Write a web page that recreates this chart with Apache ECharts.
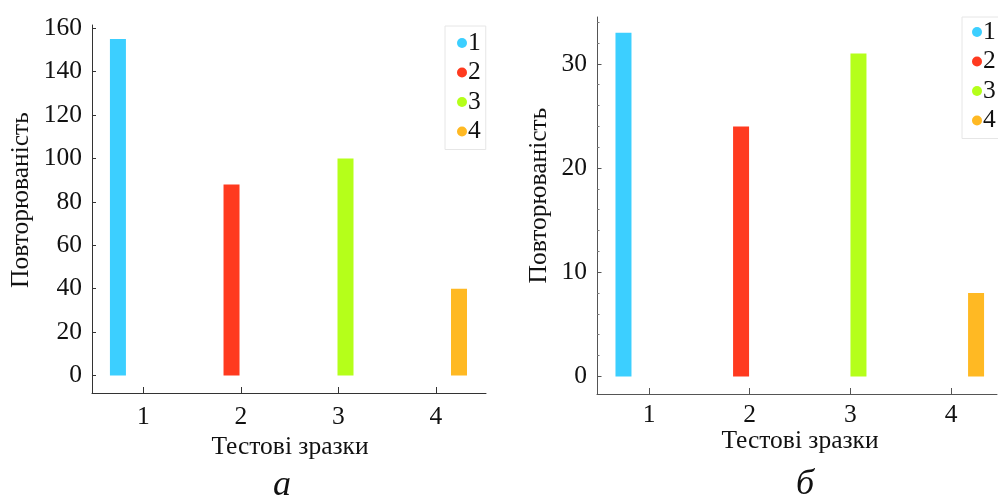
<!DOCTYPE html>
<html>
<head>
<meta charset="utf-8">
<script src="https://cdn.jsdelivr.net/npm/echarts@6/dist/echarts.min.js"></script>
<style>
html,body{margin:0;padding:0;background:#fff;}
#chart{width:998px;height:500px;}
</style>
</head>
<body>
<div id="chart"></div>
<script>
// ---- data ----
const categories = ['1', '2', '3', '4'];
const xTickValues = [1, 2, 3, 4];
const barPosA = [0.74, 1.905, 3.074, 4.238];
const valuesA = [155, 88, 100, 40];
const yTicksA = [0, 20, 40, 60, 80, 100, 120, 140, 160];
const barPosB = [0.746, 1.914, 3.080, 4.248];
const valuesB = [33, 24, 31, 8];
const yTicksB = [0, 10, 20, 30];
const yMinorTicksB = [2, 4, 6, 8, 12, 14, 16, 18, 22, 24, 26, 28, 32, 34];
const colors = ['#3ccfff', '#ff3a1f', '#b5ff1a', '#ffb923'];
const xTitle = 'Тестові зразки';
const yTitle = 'Повторюваність';
const panelLabels = ['а', 'б'];

const FONT = '"Liberation Serif", "Times New Roman", serif';
const chart = echarts.init(document.getElementById('chart'));

function xAxisCfg(gridIndex, min, max, color, margin) {
  return {
    type: 'value', gridIndex, min, max, position: 'bottom',
    axisLine: { show: true, onZero: false, lineStyle: { color, width: 1 } },
    axisTick: { show: true, inside: true, length: 6, customValues: xTickValues, lineStyle: { color } },
    axisLabel: { customValues: xTickValues, color: '#111', fontFamily: FONT, fontSize: 25.5, margin },
    splitLine: { show: false }
  };
}
function yAxisCfg(gridIndex, min, max, ticks, color, len, showLabel, showLine) {
  return {
    type: 'value', gridIndex, min, max, position: 'left',
    axisLine: { show: showLine, onZero: false, lineStyle: { color, width: 1 } },
    axisTick: { show: true, inside: true, length: len, customValues: ticks, lineStyle: { color } },
    axisLabel: { show: showLabel, customValues: ticks, color: '#111', fontFamily: FONT, fontSize: 25.5, margin: 10 },
    splitLine: { show: false }
  };
}

const series = [];
categories.forEach((c, i) => {
  series.push({
    name: c, type: 'bar', xAxisIndex: 0, yAxisIndex: 0,
    barWidth: 16, barGap: '-100%',
    data: [[barPosA[i], valuesA[i]]],
    itemStyle: { color: colors[i] }
  });
});
categories.forEach((c, i) => {
  series.push({
    name: c, type: 'bar', xAxisIndex: 1, yAxisIndex: 1,
    barWidth: 16, barGap: '-100%',
    data: [[barPosB[i], valuesB[i]]],
    itemStyle: { color: colors[i] }
  });
});

function legendCfg(left, top, padding) {
  return {
    data: categories, orient: 'vertical', left, top,
    icon: 'circle', itemWidth: 10, itemHeight: 10, itemGap: 3.5,
    padding, borderColor: '#e6e6e6', borderWidth: 1,
    textStyle: { fontFamily: FONT, fontSize: 25.5, color: '#111', padding: [0, 0, 0, -4] }
  };
}

function txt(x, y, text, size, rotation, italic) {
  return {
    type: 'text', x, y, rotation: rotation || 0,
    style: { text, fontFamily: FONT, fontSize: size, fontStyle: italic ? 'italic' : 'normal',
      fill: '#111', align: 'center', verticalAlign: 'middle' }
  };
}

chart.setOption({
  animation: false,
  backgroundColor: '#fff',
  grid: [
    { left: 92, top: 25, width: 394, height: 368 },
    { left: 597, top: 17, width: 400, height: 377 }
  ],
  xAxis: [
    xAxisCfg(0, 0.474, 4.515, '#333', 11),
    xAxisCfg(1, 0.483, 4.456, '#555', 8)
  ],
  yAxis: [
    yAxisCfg(0, -8, 161.4, yTicksA, '#333', 4, true, true),
    yAxisCfg(1, -1.69, 34.5, yTicksB, '#555', 4.5, true, true),
    yAxisCfg(1, -1.69, 34.5, yMinorTicksB, '#777', 2.5, false, false)
  ],
  legend: [
    legendCfg(445, 26, [4, 5, 5, 12]),
    legendCfg(962, 17, [2, 10, 5, 10])
  ],
  series,
  graphic: [
    txt(21.7, 200, yTitle, 25.5, Math.PI / 2),
    txt(539, 195.5, yTitle, 25.5, Math.PI / 2),
    txt(290, 447, xTitle, 25.5),
    txt(800, 441, xTitle, 25.5),
    txt(282, 486, panelLabels[0], 36, 0, true),
    txt(805, 485, panelLabels[1], 36, 0, true)
  ]
});
</script>
</body>
</html>
